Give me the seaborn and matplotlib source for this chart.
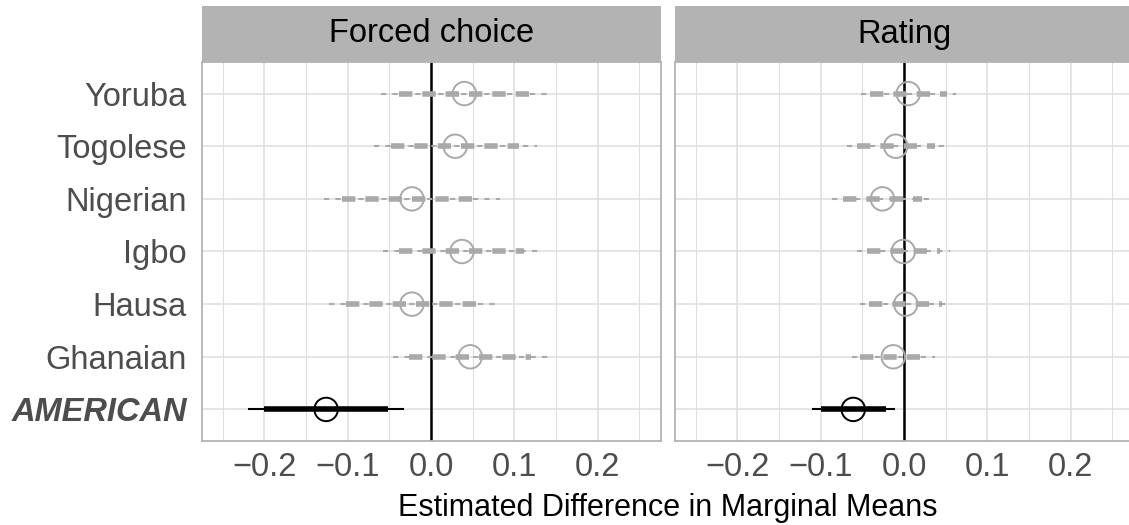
import numpy as np
import pandas as pd
import seaborn as sns
import matplotlib.pyplot as plt
from matplotlib.patches import Rectangle

# Data, bottom to top
groups = ['AMERICAN', 'Ghanaian', 'Hausa', 'Igbo', 'Nigerian', 'Togolese', 'Yoruba']
panels = ['Forced choice', 'Rating']

fc_est = [-0.126, 0.047, -0.023, 0.037, -0.023, 0.029, 0.040]
fc_lo95 = [-0.220, -0.046, -0.123, -0.058, -0.129, -0.069, -0.060]
fc_hi95 = [-0.032, 0.140, 0.077, 0.132, 0.083, 0.127, 0.140]
fc_lo90 = [-0.200, -0.026, -0.102, -0.038, -0.107, -0.048, -0.039]
fc_hi90 = [-0.052, 0.120, 0.056, 0.112, 0.061, 0.106, 0.119]

rt_est = [-0.061, -0.013, 0.002, -0.001, -0.026, -0.010, 0.005]
rt_lo95 = [-0.110, -0.063, -0.053, -0.057, -0.086, -0.069, -0.052]
rt_hi95 = [-0.011, 0.037, 0.058, 0.055, 0.034, 0.050, 0.062]
rt_lo90 = [-0.100, -0.053, -0.042, -0.045, -0.073, -0.057, -0.041]
rt_hi90 = [-0.022, 0.027, 0.046, 0.043, 0.021, 0.037, 0.051]

xticks = [-0.2, -0.1, 0.0, 0.1, 0.2]

frames = []
for name, est, lo95, hi95, lo90, hi90 in [
    ('Forced choice', fc_est, fc_lo95, fc_hi95, fc_lo90, fc_hi90),
    ('Rating', rt_est, rt_lo95, rt_hi95, rt_lo90, rt_hi90),
]:
    frames.append(pd.DataFrame({'panel': name, 'group': groups, 'pos': np.arange(len(groups)),
                                'est': est, 'lo95': lo95, 'hi95': hi95,
                                'lo90': lo90, 'hi90': hi90}))
df = pd.concat(frames, ignore_index=True)
df['ref'] = df['group'] == 'AMERICAN'

sns.set_style('white')
plt.rcParams['font.family'] = ['Liberation Sans', 'DejaVu Sans']

W, H = 1129, 525
dpi = 100
fig = plt.figure(figsize=(W / dpi, H / dpi), dpi=dpi)

grey_txt = '#4D4D4D'
grey_line = '#B3B3B3'
grey_grid = '#DEDEDE'
grey_mark = '#A9A9A9'

panel_left = [202, 675]
pw, top, bottom = 459, 62, 441
strip_top = 6

for i, name in enumerate(panels):
    ax = fig.add_axes([panel_left[i] / W, (H - bottom) / H, pw / W, (bottom - top) / H])
    sub = df[df['panel'] == name]

    ax.set_xlim(-0.275, 0.276)
    ax.set_ylim(-0.6, len(groups) - 0.4)
    ax.set_xticks(xticks)
    ax.set_xticks(np.arange(-0.25, 0.26, 0.1), minor=True)
    ax.set_yticks(np.arange(len(groups)))
    ax.grid(True, which='major', color=grey_grid, lw=1.1, zorder=0)
    ax.grid(True, which='minor', axis='x', color=grey_grid, lw=0.8, zorder=0)
    ax.set_axisbelow(True)

    ax.axvline(0, color='black', lw=1.8, zorder=2)

    for _, r in sub.iterrows():
        if r['ref']:
            ax.hlines(r['pos'], r['lo95'], r['hi95'], color='black', lw=1.5, zorder=3)
            ax.hlines(r['pos'], r['lo90'], r['hi90'], color='black', lw=4.0, zorder=3)
        else:
            ax.hlines(r['pos'], r['lo95'], r['hi95'], color=grey_mark, lw=1.5,
                      linestyles=(0, (2.5, 3)), zorder=3)
            ax.hlines(r['pos'], r['lo90'], r['hi90'], color=grey_mark, lw=4.0,
                      linestyles=(0, (2.4, 1.8)), zorder=3)

    sns.scatterplot(data=sub, x='est', y='pos', hue='ref', palette={False: grey_mark, True: 'black'},
                    ax=ax, legend=False, s=285, facecolors='none', zorder=4)
    # hollow markers: move colours to edges
    coll = ax.collections[-1]
    fc = coll.get_facecolors()
    coll.set_edgecolors(fc)
    coll.set_facecolors('none')
    coll.set_linewidth(1.4)

    ax.set_xlabel('')
    ax.set_ylabel('')
    for sp in ax.spines.values():
        sp.set_color(grey_line)
        sp.set_linewidth(1.3)
    ax.tick_params(axis='both', which='major', length=4, width=1.1, color=grey_line,
                   labelsize=23.5, labelcolor=grey_txt)
    ax.tick_params(axis='x', which='major', pad=4)
    ax.tick_params(axis='y', which='major', pad=7)
    ax.tick_params(axis='both', which='minor', length=0)
    ax.set_xticklabels([f'{t:.1f}'.replace('-', '\u2212') for t in xticks])
    if i == 0:
        ax.set_yticklabels(groups)
        lab = ax.get_yticklabels()[0]
        lab.set_fontweight('bold')
        lab.set_fontstyle('italic')
    else:
        ax.set_yticklabels([])
        ax.tick_params(axis='y', length=0)

    # strip
    sax = fig.add_axes([panel_left[i] / W, (H - top) / H, pw / W, (top - strip_top) / H])
    sax.add_patch(Rectangle((0, 0), 1, 1, transform=sax.transAxes, color=grey_line))
    sax.text(0.5, 0.5, name, ha='center', va='center', fontsize=23.5, color='black',
             transform=sax.transAxes)
    sax.set_axis_off()

fig.text((202 + 1134) / 2 / W, 1 - 508 / H, 'Estimated Difference in Marginal Means',
         ha='center', va='center', fontsize=22, color='black')

fig.savefig('out.png', dpi=dpi)
